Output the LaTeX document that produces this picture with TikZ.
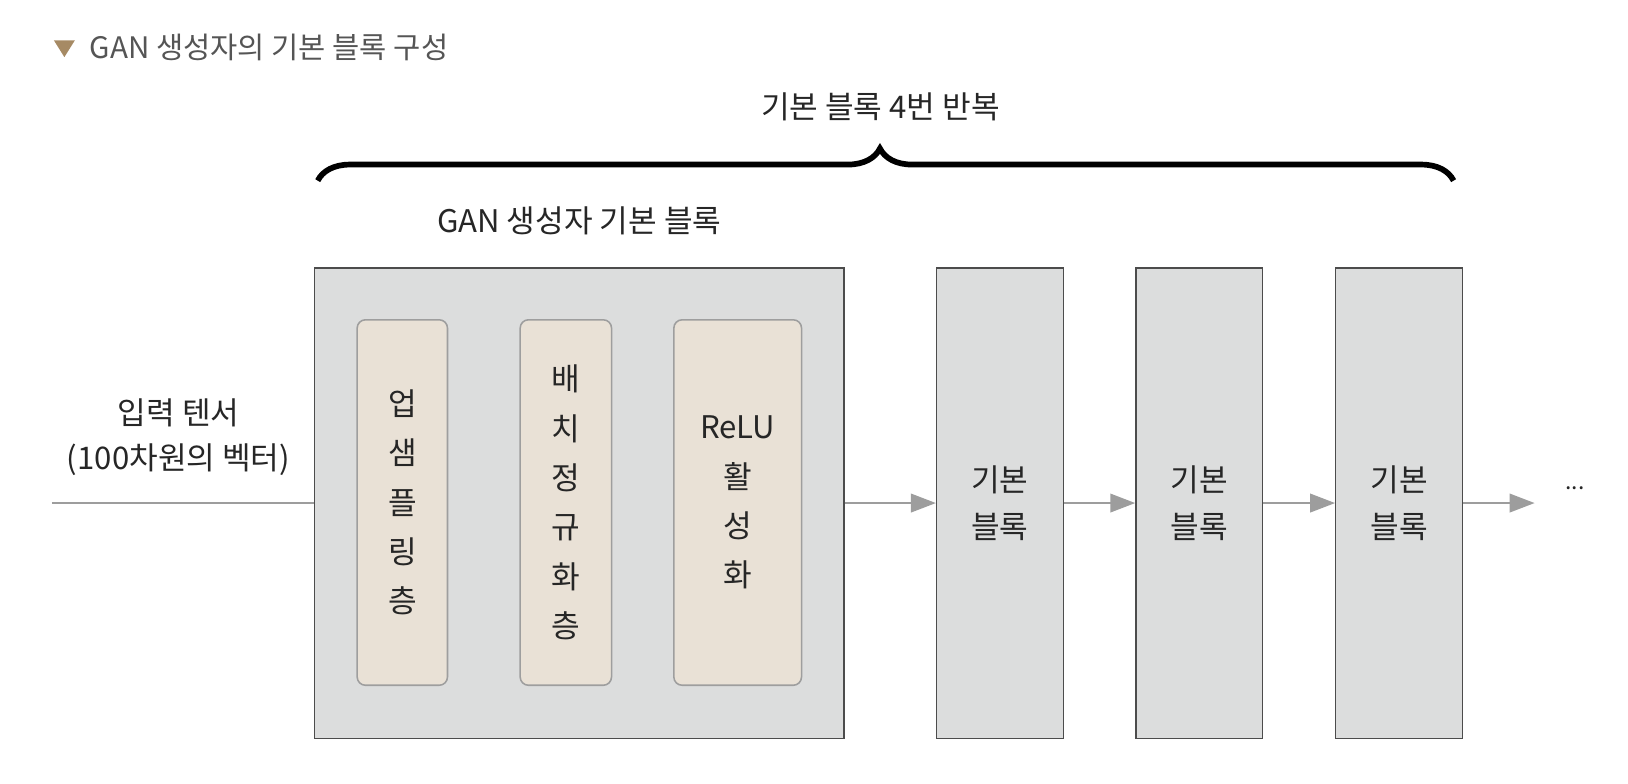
\documentclass[tikz,border=0pt]{standalone}
\usepackage{fontspec}
\setmainfont{Noto Sans CJK KR}
\usepackage{xcolor}
\definecolor{BLKcolor}{HTML}{DCDDDD}
\definecolor{LAYcolor}{HTML}{E9E1D6}
\definecolor{LINEcolor}{HTML}{9D9D9D}
\definecolor{MARKcolor}{HTML}{A68A64}
\definecolor{TITLEcolor}{HTML}{555555}
\usepackage{tikz}
\usetikzlibrary{arrows.meta, decorations.pathreplacing}

\begin{document}
\begin{tikzpicture}[x=1pt, y=-1pt]
    \tikzset{%
        block/.style={draw=black!70, fill=BLKcolor, line width=1.3pt, minimum width=122pt, minimum height=453pt, inner sep=0pt, align=center, text=black!85, font=\fontsize{30pt}{45pt}\selectfont},
        layer/.style={draw=black!38, fill=LAYcolor, rounded corners=8pt, line width=1.5pt, minimum height=352pt, inner sep=0pt, align=center, text=black!85, font=\fontsize{30pt}{47.5pt}\selectfont},
        flow/.style={LINEcolor, line width=1.5pt, -{Triangle[length=24pt, width=18pt]}},
        txt/.style={align=center, text=black!85, font=\fontsize{30pt}{43pt}\selectfont}
    }
    \useasboundingbox (0, 0) rectangle (1568, 755);

    % title
    \fill [MARKcolor] (52, 39) -- (72, 39) -- (62, 55) -- cycle;
    \node [anchor=west, text=TITLEcolor, font=\fontsize{28.5pt}{28.5pt}\selectfont] (title) at (83, 46) {GAN 생성자의 기본 블록 구성};

    % brace
    \node [txt] (repeat) at (848, 103) {기본 블록 4번 반복};
    \draw [decorate, decoration={brace, amplitude=31pt, aspect=0.495}, line width=5.5pt] (306, 174) -- (1400, 174);

    % GAN block
    \node [txt] (gantitle) at (558, 213) {GAN 생성자 기본 블록};
    \node [block, minimum width=510pt] (gan) at (558, 484.5) {};
    \node [layer, minimum width=87pt] (up) at (387.5, 484) {업\\샘\\플\\링\\층};
    \node [layer, minimum width=88pt] (bn) at (545, 484) {배\\치\\정\\규\\화\\층};
    \node [layer, minimum width=123pt] (relu) at (710.5, 484) {ReLU\\활\\성\\화};

    % repeated blocks
    \node [block] (b1) at (963, 484.5) {기본\\블록};
    \node [block] (b2) at (1155, 484.5) {기본\\블록};
    \node [block] (b3) at (1347.5, 484.5) {기본\\블록};
    \node [txt, font=\fontsize{22pt}{22pt}\selectfont] (dots) at (1517, 470) {...};

    % input
    \node [txt] (input) at (172, 421) {입력 텐서\\(100차원의 벡터)};
    \coordinate (in) at (50, 484.5);
    \coordinate (out) at (1478, 484.5);
    \draw [LINEcolor, line width=1.5pt] (in) -- (gan.west);
    \draw [flow] (gan.east) -- (b1.west);
    \draw [flow] (b1.east) -- (b2.west);
    \draw [flow] (b2.east) -- (b3.west);
    \draw [flow] (b3.east) -- (out);
\end{tikzpicture}
\end{document}
